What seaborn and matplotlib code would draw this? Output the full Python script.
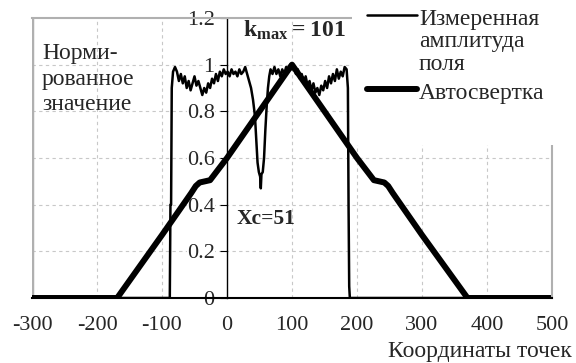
import numpy as np
import pandas as pd
import matplotlib
matplotlib.use("Agg")
import matplotlib.pyplot as plt
import seaborn as sns
from matplotlib.lines import Line2D
from matplotlib.patches import Rectangle

meas_x = [-300, -88, -87, -86, -85, -83, -80, -77, -74, -71, -68, -65, -62, -59, -56,
          -53, -50, -47, -44, -41, -38, -35, -32, -29, -26, -23, -20, -17, -14, -11,
          -8, -5, -2, 1, 4, 7, 10, 13, 16, 19, 22, 25, 28, 31, 34, 37, 40, 43, 45,
          47, 49, 51, 52, 53, 55, 57, 59, 61, 63, 65, 67, 70, 73, 76, 79, 82, 85,
          88, 91, 94, 97, 100, 103, 106, 109, 112, 115, 118, 121, 124, 127, 130,
          133, 136, 139, 142, 145, 148, 151, 154, 157, 160, 163, 166, 169, 172,
          175, 178, 181, 184, 186, 187, 188, 189, 500]
meas_y = [0, 0, 0.4, 0.4, 0.9, 0.97, 0.99, 0.97, 0.93, 0.96, 0.92, 0.95, 0.9, 0.93, 0.89,
          0.92, 0.95, 0.91, 0.93, 0.9, 0.87, 0.9, 0.88, 0.92, 0.9, 0.94, 0.92, 0.96, 0.93, 0.97,
          0.95, 0.98, 0.96, 0.97, 0.95, 0.98, 0.96, 0.97, 0.95, 0.98, 0.96, 0.97, 0.99, 0.96,
          0.93, 0.9, 0.85, 0.78, 0.68, 0.58, 0.54, 0.52, 0.47, 0.53, 0.54, 0.6, 0.72, 0.82,
          0.9, 0.95, 0.98, 0.96, 0.99, 0.96, 0.98, 0.95, 0.98, 0.96, 0.99, 0.97, 1.0, 0.98,
          0.99, 0.96, 0.98, 0.94, 0.96, 0.92, 0.95, 0.91, 0.93, 0.89, 0.92, 0.88, 0.9, 0.87,
          0.91, 0.89, 0.93, 0.9, 0.95, 0.92, 0.96, 0.93, 0.98, 0.94, 0.97, 0.95, 0.99, 0.98,
          0.9, 0.4, 0.05, 0, 0]

# autoconvolution
conv_x = [-300, -169, -100, -55, -48, -42, -34, -26, 0, 50, 100, 150, 200, 226, 234,
          242, 248, 255, 300, 370, 500]
conv_y = [0, 0, 0.27, 0.45, 0.48, 0.495, 0.5, 0.505, 0.6, 0.8, 1.0, 0.8, 0.6, 0.505,
          0.5, 0.495, 0.48, 0.45, 0.27, 0, 0]

x_ticks = [-300, -200, -100, 0, 100, 200, 300, 400, 500]
y_ticks = [0, 0.2, 0.4, 0.6, 0.8, 1.0, 1.2]
y_labels = ["0", "0.2", "0.4", "0.6", "0.8", "1", "1.2"]

sns.set_style("white")
plt.rcParams["font.family"] = ["Liberation Serif", "DejaVu Serif"]
plt.rcParams["mathtext.fontset"] = "custom"
plt.rcParams["mathtext.rm"] = "Liberation Serif"
plt.rcParams["mathtext.bf"] = "Liberation Serif:bold"

meas = pd.DataFrame({"x": meas_x, "y": meas_y})
conv = pd.DataFrame({"x": conv_x, "y": conv_y})

fig = plt.figure(figsize=(5.76, 3.63), dpi=100)
ax = fig.add_axes([32 / 576, 65 / 363, 520 / 576, 280 / 363])

grid_c = "#c8c8c8"
for xv in x_ticks[1:-1]:
    if xv != 0:
        ax.axvline(xv, color=grid_c, lw=0.8, ls=(0, (3, 3)), zorder=0)
for yv in y_ticks[1:-1]:
    ax.axhline(yv, color=grid_c, lw=0.8, ls=(0, (3, 3)), zorder=0)

sns.lineplot(data=conv, x="x", y="y", ax=ax, color="black", lw=4.3,
             estimator=None, sort=False, solid_joinstyle="round")
sns.lineplot(data=meas, x="x", y="y", ax=ax, color="black", lw=1.8,
             estimator=None, sort=False)

ax.set_xlim(-300, 500)
ax.set_ylim(0, 1.2)
ax.set_xlabel("")
ax.set_ylabel("")

for s in ["top", "right"]:
    ax.spines[s].set_color("#b0b0b0")
    ax.spines[s].set_linewidth(1.5)
ax.axvline(-300, color="#b0b0b0", lw=2.5, zorder=0)
ax.spines["left"].set_position(("data", 0))
ax.spines["left"].set_color("black")
ax.spines["left"].set_linewidth(1)
ax.spines["bottom"].set_color("black")
ax.spines["bottom"].set_linewidth(1.5)

ax.set_xticks(x_ticks)
ax.set_xticklabels([str(v) for v in x_ticks])
ax.set_yticks(y_ticks)
ax.set_yticklabels(y_labels)
ax.tick_params(axis="x", direction="in", length=4, pad=13, labelsize=16, color="black")
ax.tick_params(axis="y", direction="out", length=5, pad=4, labelsize=16, color="black")
ax.yaxis.tick_left()
for lab in ax.get_yticklabels():
    lab.set_bbox(dict(facecolor="white", edgecolor="none", pad=0))

ax.text(25, 1.145, r"$\mathbf{k_{max}{=}101}$", fontsize=17, va="center")
ax.text(15, 0.34, "Xc=51", fontsize=15.5, fontweight="bold", va="center")

fig.text(42 / 576, 1 - 79 / 363, "Норми-\nрованное\nзначение", fontsize=17,
         va="center", ha="left", linespacing=1.3)
fig.text(572 / 576, 1 - 351 / 363, "Координаты точек", fontsize=17,
         ha="right", va="center")

# legend box
fig.add_artist(Rectangle((352 / 576, 1 - 145 / 363), 224 / 576, 145 / 363,
                         transform=fig.transFigure, facecolor="white",
                         edgecolor="none", zorder=5))
fig.add_artist(Line2D([367 / 576, 417 / 576], [1 - 15 / 363, 1 - 15 / 363],
                      transform=fig.transFigure, color="black", lw=1.8, zorder=6))
fig.add_artist(Line2D([367 / 576, 417 / 576], [1 - 89 / 363, 1 - 89 / 363],
                      transform=fig.transFigure, color="black", lw=4.3, zorder=6))
fig.text(419 / 576, 1 - 42 / 363, "Измеренная\nамплитуда\nполя", fontsize=17,
         va="center", ha="left", linespacing=1.1, zorder=7)
fig.text(419 / 576, 1 - 93 / 363, "Автосвертка", fontsize=17,
         va="center", ha="left", zorder=7)

fig.savefig("out.png", dpi=100)
